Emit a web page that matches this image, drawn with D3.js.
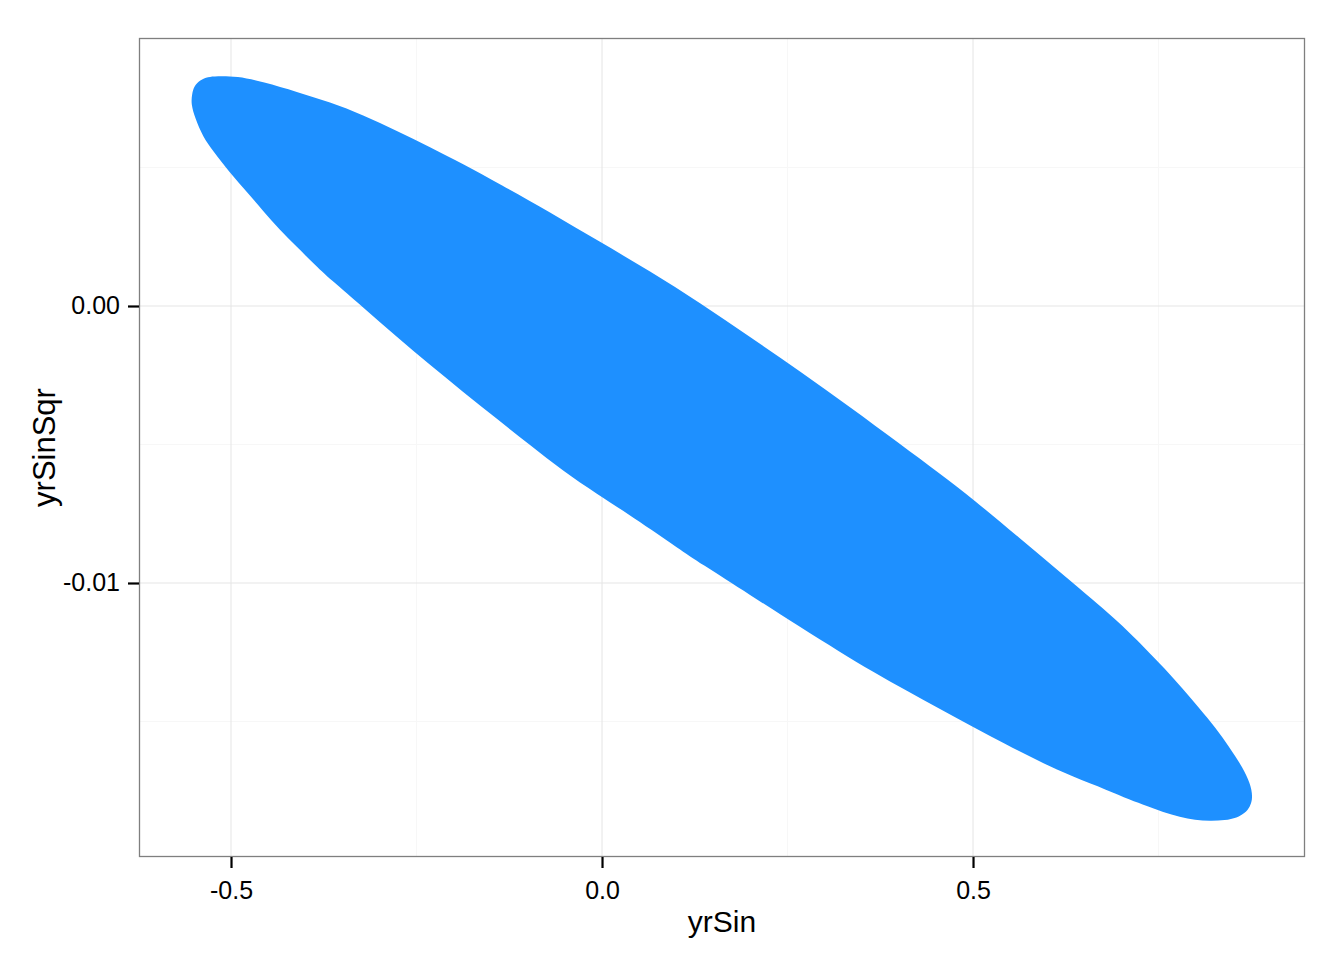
<!DOCTYPE html>
<html><head><meta charset="utf-8">
<script src="https://cdn.jsdelivr.net/npm/d3@7"></script>
<style>html,body{margin:0;padding:0;background:#fff;}</style>
</head><body>
<svg id="chart" width="1344" height="960"></svg>
<script>
// Outline of the filled region (yrSin, yrSinSqr), clockwise from the left tip
const yrSin = [-0.5526,-0.5499,-0.5418,-0.5310,-0.5202,-0.4919,-0.4569,-0.4111,-0.3666,-0.3221,-0.2763,-0.2318,-0.1873,-0.1375,-0.0701,-0.0027,0.0647,0.1321,0.1995,0.2668,0.3342,0.4016,0.4555,0.5000,0.5593,0.6267,0.6941,0.7318,0.7588,0.7830,0.8059,0.8261,0.8464,0.8639,0.8733,0.8774,
  0.8733,0.8666,0.8558,0.8396,0.8194,0.7992,
  0.7790,0.7561,0.7345,0.7116,0.6806,0.6348,0.5903,0.5458,0.5000,0.4555,0.4111,0.3652,0.3208,0.2668,0.1995,0.1321,0.1024,0.0647,0.0377,-0.0067,-0.0526,-0.0970,-0.1415,-0.1873,-0.2318,-0.2763,-0.3221,-0.3666,-0.3895,-0.4111,-0.4340,-0.4569,-0.4784,-0.5013,-0.5243,-0.5377,-0.5485,-0.5539];
const yrSinSqr = [0.00765,0.00794,0.00816,0.00827,0.00830,0.00830,0.00809,0.00773,0.00736,0.00690,0.00632,0.00574,0.00513,0.00440,0.00339,0.00231,0.00126,0.00011,-0.00112,-0.00235,-0.00365,-0.00498,-0.00606,-0.00697,-0.00830,-0.00982,-0.01134,-0.01235,-0.01310,-0.01383,-0.01455,-0.01520,-0.01596,-0.01668,-0.01722,-0.01773,
  -0.01809,-0.01830,-0.01848,-0.01857,-0.01859,-0.01856,
  -0.01845,-0.01827,-0.01805,-0.01783,-0.01747,-0.01700,-0.01646,-0.01585,-0.01520,-0.01455,-0.01390,-0.01321,-0.01249,-0.01159,-0.01043,-0.00928,-0.00874,-0.00805,-0.00755,-0.00679,-0.00596,-0.00502,-0.00408,-0.00310,-0.00213,-0.00112,-0.00004,0.00097,0.00155,0.00213,0.00274,0.00343,0.00412,0.00480,0.00560,0.00610,0.00679,0.00729];
const xTicks = [-0.5, 0.0, 0.5];
const xTickLabels = ["-0.5", "0.0", "0.5"];
const xMinor = [-0.25, 0.25, 0.75];
const yTicks = [0.00, -0.01];
const yTickLabels = ["0.00", "-0.01"];
const yMinor = [0.005, -0.005, -0.015];
const xTitle = "yrSin", yTitle = "yrSinSqr";

const svg = d3.select("#chart");
const L = 139, R = 1305, T = 38, B = 857;
const x = d3.scaleLinear().domain([-0.6240, 0.9474]).range([L, R]);
const y = d3.scaleLinear().domain([-0.019892, 0.009675]).range([B, T]);
const FONT = "'Liberation Sans', Arial, sans-serif";

svg.append("rect").attr("x", L).attr("y", T).attr("width", R - L).attr("height", B - T).attr("fill", "#fff");

const g = svg.append("g");
g.selectAll(".vminor").data(xMinor).join("line")
  .attr("x1", d => x(d)).attr("x2", d => x(d)).attr("y1", T).attr("y2", B)
  .attr("stroke", "#f7f7f7").attr("stroke-width", 1);
g.selectAll(".hminor").data(yMinor).join("line")
  .attr("y1", d => y(d)).attr("y2", d => y(d)).attr("x1", L).attr("x2", R)
  .attr("stroke", "#f7f7f7").attr("stroke-width", 1);
g.selectAll(".vmajor").data(xTicks).join("line")
  .attr("x1", d => x(d)).attr("x2", d => x(d)).attr("y1", T).attr("y2", B)
  .attr("stroke", "#e5e5e5").attr("stroke-width", 1);
g.selectAll(".hmajor").data(yTicks).join("line")
  .attr("y1", d => y(d)).attr("y2", d => y(d)).attr("x1", L).attr("x2", R)
  .attr("stroke", "#e5e5e5").attr("stroke-width", 1);

const pts = yrSin.map((d, i) => [d, yrSinSqr[i]]);
const line = d3.line().x(d => x(d[0])).y(d => y(d[1])).curve(d3.curveBasisClosed);
svg.append("path").attr("d", line(pts)).attr("fill", "#1E90FF").attr("stroke", "none");

svg.append("rect").attr("x", L + 0.5).attr("y", T + 0.5).attr("width", R - L - 1).attr("height", B - T - 1)
  .attr("fill", "none").attr("stroke", "#7f7f7f").attr("stroke-width", 1.3);

// Axes
const xAxis = d3.axisBottom(x).tickValues(xTicks).tickFormat((d, i) => xTickLabels[i]).tickSize(11).tickPadding(13);
const xa = svg.append("g").attr("transform", `translate(0,${B})`).call(xAxis);
const yAxis = d3.axisLeft(y).tickValues(yTicks).tickFormat((d, i) => yTickLabels[i]).tickSize(11).tickPadding(8);
const ya = svg.append("g").attr("transform", `translate(${L},0)`).call(yAxis);
[xa, ya].forEach(a => {
  a.select(".domain").remove();
  a.selectAll(".tick line").attr("stroke", "#000").attr("stroke-width", 2.2);
  a.selectAll(".tick text").attr("fill", "#000").style("font-family", FONT).style("font-size", "25px");
});

svg.append("text").attr("x", (L + R) / 2).attr("y", 932).attr("text-anchor", "middle")
  .style("font-family", FONT).style("font-size", "30px").text(xTitle);
svg.append("text").attr("transform", `translate(55,${(T + B) / 2}) rotate(-90)`).attr("text-anchor", "middle")
  .style("font-family", FONT).style("font-size", "31px").text(yTitle);
</script>
</body></html>
